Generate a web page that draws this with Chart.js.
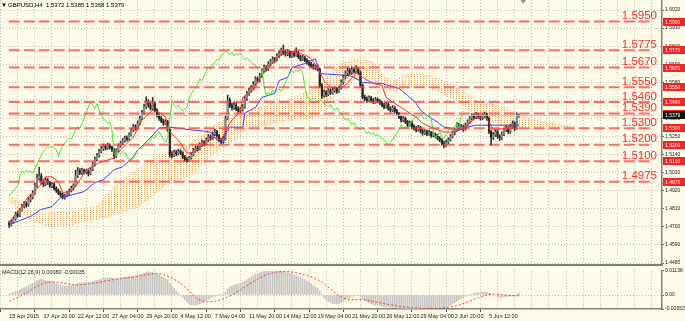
<!DOCTYPE html>
<html>
<head>
<meta charset="utf-8">
<script src="https://cdn.jsdelivr.net/npm/chart.js@4.4.1/dist/chart.umd.min.js"></script>
<style>
  html, body { margin: 0; padding: 0; background: #fefbe8; }
  #wrap { position: relative; width: 685px; height: 321px; overflow: hidden; background: #fefbe8; }
  #main { position: absolute; left: 0; top: 0; }
  #macd { position: absolute; left: 0; top: 266px; }
</style>
</head>
<body>
<div id="wrap">
  <canvas id="main" width="685" height="266" style="width:685px;height:266px"></canvas>
  <canvas id="macd" width="685" height="55" style="width:685px;height:55px"></canvas>
</div>
<script>
// GBPUSD H4 bars, index 0 = 15 Apr 2015 04:00
const firstOpen = 1.4722;
const closes = [
  1.4712,1.4730,1.4748,1.4778,1.4770,1.4802,1.4825,1.4840,1.4832,1.4865,
  1.4880,1.4905,1.4950,1.4995,1.5010,1.4975,1.4960,1.4985,1.4970,1.4950,
  1.4960,1.4935,1.4920,1.4905,1.4895,1.4880,1.4890,1.4905,1.4920,1.4935,
  1.4950,1.5010,1.5040,1.5030,1.5045,1.5035,1.5040,1.5025,1.5050,1.5080,
  1.5110,1.5135,1.5160,1.5175,1.5190,1.5180,1.5195,1.5185,1.5170,1.5130,
  1.5165,1.5195,1.5210,1.5225,1.5240,1.5235,1.5260,1.5290,1.5310,1.5300,
  1.5330,1.5360,1.5395,1.5430,1.5460,1.5440,1.5420,1.5450,1.5410,1.5380,
  1.5360,1.5345,1.5330,1.5340,1.5290,1.5140,1.5135,1.5155,1.5145,1.5160,
  1.5150,1.5125,1.5110,1.5105,1.5120,1.5140,1.5165,1.5180,1.5175,1.5200,
  1.5215,1.5205,1.5230,1.5250,1.5240,1.5265,1.5280,1.5255,1.5230,1.5215,
  1.5240,1.5360,1.5470,1.5440,1.5425,1.5440,1.5420,1.5405,1.5415,1.5430,
  1.5480,1.5510,1.5530,1.5545,1.5570,1.5600,1.5590,1.5620,1.5650,1.5670,
  1.5660,1.5690,1.5705,1.5720,1.5715,1.5740,1.5755,1.5770,1.5760,1.5750,
  1.5765,1.5740,1.5755,1.5745,1.5760,1.5735,1.5720,1.5730,1.5715,1.5700,
  1.5690,1.5680,1.5670,1.5675,1.5660,1.5560,1.5500,1.5520,1.5505,1.5530,
  1.5515,1.5530,1.5540,1.5525,1.5545,1.5580,1.5610,1.5635,1.5650,1.5640,
  1.5655,1.5645,1.5660,1.5640,1.5560,1.5490,1.5480,1.5470,1.5485,1.5470,
  1.5460,1.5475,1.5465,1.5455,1.5440,1.5430,1.5445,1.5420,1.5410,1.5425,
  1.5405,1.5390,1.5370,1.5350,1.5360,1.5340,1.5320,1.5335,1.5310,1.5300,
  1.5290,1.5305,1.5285,1.5270,1.5280,1.5265,1.5275,1.5255,1.5265,1.5250,
  1.5240,1.5230,1.5210,1.5200,1.5215,1.5230,1.5250,1.5270,1.5290,1.5320,
  1.5300,1.5310,1.5295,1.5320,1.5340,1.5360,1.5375,1.5365,1.5380,1.5370,
  1.5360,1.5375,1.5385,1.5360,1.5280,1.5245,1.5260,1.5280,1.5250,1.5240,
  1.5265,1.5290,1.5300,1.5280,1.5310,1.5330,1.5300,1.5372,1.5379
];
const highs = [
  1.4735,1.4741,1.4760,1.4790,1.4795,1.4812,1.4838,1.4856,1.4852,1.4878,
  1.4895,1.4920,1.4968,1.5020,1.5062,1.5025,1.4990,1.4998,1.4995,1.4978,
  1.4972,1.4968,1.4945,1.4930,1.4915,1.4905,1.4900,1.4915,1.4930,1.4948,
  1.4962,1.5045,1.5062,1.5055,1.5058,1.5052,1.5050,1.5048,1.5062,1.5092,
  1.5125,1.5148,1.5172,1.5190,1.5205,1.5200,1.5210,1.5205,1.5192,1.5178,
  1.5175,1.5205,1.5222,1.5238,1.5252,1.5255,1.5272,1.5302,1.5325,1.5322,
  1.5345,1.5375,1.5410,1.5448,1.5492,1.5475,1.5455,1.5488,1.5462,1.5420,
  1.5392,1.5372,1.5355,1.5352,1.5348,1.5298,1.5158,1.5168,1.5165,1.5172,
  1.5170,1.5158,1.5135,1.5122,1.5130,1.5152,1.5178,1.5192,1.5195,1.5212,
  1.5228,1.5225,1.5242,1.5262,1.5260,1.5278,1.5295,1.5288,1.5262,1.5240,
  1.5252,1.5378,1.5502,1.5485,1.5455,1.5458,1.5452,1.5432,1.5428,1.5445,
  1.5495,1.5525,1.5545,1.5560,1.5585,1.5615,1.5612,1.5635,1.5665,1.5685,
  1.5682,1.5705,1.5720,1.5735,1.5732,1.5755,1.5772,1.5788,1.5806,1.5778,
  1.5780,1.5772,1.5770,1.5768,1.5790,1.5770,1.5745,1.5745,1.5738,1.5725,
  1.5712,1.5702,1.5692,1.5688,1.5685,1.5668,1.5572,1.5535,1.5530,1.5542,
  1.5540,1.5545,1.5555,1.5550,1.5558,1.5595,1.5625,1.5650,1.5672,1.5665,
  1.5675,1.5668,1.5682,1.5670,1.5648,1.5570,1.5502,1.5492,1.5498,1.5495,
  1.5482,1.5488,1.5485,1.5475,1.5465,1.5452,1.5458,1.5455,1.5432,1.5438,
  1.5432,1.5415,1.5398,1.5378,1.5372,1.5368,1.5348,1.5345,1.5342,1.5322,
  1.5312,1.5318,1.5312,1.5295,1.5292,1.5290,1.5288,1.5282,1.5278,1.5272,
  1.5262,1.5250,1.5238,1.5222,1.5228,1.5242,1.5262,1.5282,1.5302,1.5335,
  1.5330,1.5325,1.5320,1.5332,1.5352,1.5372,1.5390,1.5388,1.5398,1.5392,
  1.5382,1.5388,1.5400,1.5392,1.5368,1.5290,1.5275,1.5292,1.5288,1.5262,
  1.5278,1.5302,1.5318,1.5310,1.5325,1.5345,1.5340,1.5395,1.5385
];
const lows = [
  1.4697,1.4705,1.4722,1.4740,1.4758,1.4762,1.4795,1.4815,1.4820,1.4825,
  1.4852,1.4870,1.4898,1.4940,1.4985,1.4960,1.4945,1.4950,1.4958,1.4940,
  1.4938,1.4925,1.4910,1.4895,1.4882,1.4870,1.4868,1.4882,1.4895,1.4912,
  1.4925,1.4945,1.5000,1.5018,1.5020,1.5022,1.5025,1.5010,1.5018,1.5042,
  1.5070,1.5100,1.5125,1.5150,1.5165,1.5168,1.5172,1.5175,1.5158,1.5115,
  1.5122,1.5158,1.5185,1.5200,1.5215,1.5222,1.5228,1.5252,1.5280,1.5288,
  1.5292,1.5320,1.5352,1.5385,1.5420,1.5428,1.5410,1.5412,1.5400,1.5368,
  1.5348,1.5335,1.5318,1.5322,1.5280,1.5125,1.5120,1.5128,1.5132,1.5138,
  1.5140,1.5115,1.5098,1.5092,1.5098,1.5112,1.5132,1.5155,1.5162,1.5168,
  1.5190,1.5195,1.5198,1.5220,1.5228,1.5232,1.5255,1.5245,1.5218,1.5205,
  1.5208,1.5232,1.5352,1.5425,1.5410,1.5415,1.5408,1.5392,1.5395,1.5405,
  1.5422,1.5470,1.5500,1.5520,1.5535,1.5560,1.5578,1.5582,1.5610,1.5640,
  1.5648,1.5652,1.5680,1.5695,1.5702,1.5708,1.5730,1.5745,1.5748,1.5738,
  1.5742,1.5730,1.5732,1.5735,1.5738,1.5725,1.5710,1.5712,1.5705,1.5690,
  1.5678,1.5668,1.5660,1.5658,1.5650,1.5548,1.5480,1.5490,1.5492,1.5498,
  1.5505,1.5508,1.5520,1.5512,1.5518,1.5538,1.5570,1.5600,1.5625,1.5628,
  1.5630,1.5635,1.5638,1.5628,1.5548,1.5478,1.5468,1.5458,1.5462,1.5460,
  1.5450,1.5452,1.5455,1.5445,1.5430,1.5420,1.5422,1.5410,1.5398,1.5402,
  1.5395,1.5378,1.5358,1.5338,1.5340,1.5328,1.5308,1.5312,1.5298,1.5288,
  1.5278,1.5282,1.5272,1.5258,1.5262,1.5255,1.5258,1.5245,1.5248,1.5240,
  1.5228,1.5218,1.5198,1.5180,1.5190,1.5205,1.5222,1.5242,1.5260,1.5282,
  1.5290,1.5292,1.5282,1.5288,1.5312,1.5332,1.5350,1.5355,1.5358,1.5360,
  1.5350,1.5352,1.5368,1.5348,1.5268,1.5195,1.5232,1.5250,1.5238,1.5225,
  1.5232,1.5255,1.5280,1.5268,1.5270,1.5300,1.5285,1.5295,1.5368
];

// Ichimoku lines: [bar, price]
const tenkan = [[0,1.4728],[6,1.4824],[9,1.4885],[14,1.4945],[17,1.5005],[20,1.5005],[23,1.4975],[25,1.4909],[28,1.4915],[31,1.4945],[36,1.5048],[42,1.5090],[49,1.5120],[52,1.5168],[58,1.5247],[62,1.5350],[67,1.5410],[70,1.5398],[73,1.5368],[74,1.5289],[79,1.5229],[83,1.5150],[86,1.5150],[91,1.5211],[95,1.5247],[99,1.5229],[103,1.5331],[108,1.5410],[109,1.5488],[114,1.5531],[117,1.5609],[121,1.5670],[126,1.5742],[132,1.5766],[138,1.5748],[141,1.5724],[144,1.5670],[147,1.5591],[150,1.5549],[155,1.5549],[158,1.5573],[162,1.5639],[165,1.5609],[170,1.5573],[174,1.5561],[176,1.5488],[180,1.5452],[185,1.5410],[190,1.5368],[193,1.5331],[198,1.5301],[203,1.5277],[208,1.5277],[209,1.5289],[214,1.5319],[218,1.5368],[223,1.5362],[226,1.5289],[232,1.5301],[236,1.5319],[238,1.5319]];
const kijun = [[0,1.4716],[3,1.4728],[10,1.4764],[15,1.4806],[20,1.4824],[24,1.4879],[30,1.4897],[35,1.4915],[40,1.4969],[44,1.4987],[49,1.5048],[53,1.5066],[58,1.5126],[60,1.5168],[65,1.5229],[68,1.5271],[70,1.5301],[75,1.5307],[86,1.5289],[91,1.5283],[94,1.5277],[97,1.5229],[100,1.5211],[101,1.5271],[103,1.5307],[109,1.5307],[110,1.5392],[115,1.5428],[118,1.5488],[124,1.5513],[126,1.5591],[130,1.5609],[132,1.5670],[138,1.5694],[143,1.5724],[145,1.5633],[159,1.5621],[162,1.5603],[165,1.5579],[174,1.5573],[182,1.5543],[186,1.5500],[190,1.5452],[192,1.5410],[195,1.5380],[200,1.5337],[203,1.5307],[206,1.5301],[208,1.5277],[212,1.5301],[218,1.5319],[238,1.5319]];
const chikouShift = 26;

// cloud (Senkou spans, already shifted forward)
const cloudIdx = [0,5,10,14,20,30,36,42,46,50,55,60,66,73,80,85,90,94,100,105,110,120,130,135,140,144,150,155,159,165,170,173,176,180,185,190,196,201,205,209,214,218,225,232,241,250,258,264];
const spanA = [1.4897,1.4850,1.4800,1.4785,1.4788,1.4794,1.4812,1.4830,1.4900,1.4950,1.5000,1.5050,1.5110,1.5150,1.5180,1.5211,1.5260,1.5307,1.5340,1.5368,1.5400,1.5440,1.5470,1.5500,1.5531,1.5560,1.5633,1.5700,1.5712,1.5724,1.5700,1.5640,1.5609,1.5591,1.5625,1.5633,1.5621,1.5600,1.5573,1.5549,1.5510,1.5470,1.5450,1.5420,1.5360,1.5340,1.5320,1.5310];
const spanB = [1.4861,1.4800,1.4745,1.4722,1.4703,1.4715,1.4740,1.4750,1.4760,1.4780,1.4800,1.4824,1.4880,1.4957,1.4990,1.5017,1.5080,1.5138,1.5190,1.5229,1.5289,1.5320,1.5350,1.5360,1.5360,1.5380,1.5470,1.5560,1.5591,1.5609,1.5600,1.5570,1.5549,1.5520,1.5549,1.5549,1.5549,1.5520,1.5490,1.5470,1.5420,1.5392,1.5350,1.5300,1.5300,1.5300,1.5302,1.5305];

// MACD(12,26,9)
const macdMain = [
  0.0005,0.0008,0.0012,0.0016,0.0020,0.0025,0.0030,0.0035,0.0040,0.0045,
  0.0050,0.0056,0.0062,0.0067,0.0071,0.0072,0.0070,0.0068,0.0066,0.0063,
  0.0060,0.0057,0.0054,0.0050,0.0047,0.0044,0.0042,0.0041,0.0042,0.0043,
  0.0045,0.0050,0.0054,0.0056,0.0057,0.0058,0.0058,0.0058,0.0060,0.0063,
  0.0066,0.0069,0.0072,0.0075,0.0078,0.0080,0.0081,0.0081,0.0080,0.0077,
  0.0077,0.0078,0.0080,0.0082,0.0083,0.0084,0.0085,0.0087,0.0089,0.0090,
  0.0092,0.0095,0.0099,0.0103,0.0107,0.0108,0.0106,0.0106,0.0103,0.0098,
  0.0093,0.0088,0.0082,0.0077,0.0070,0.0055,0.0042,0.0030,0.0020,0.0010,
  0.0000,-0.0010,-0.0022,-0.0032,-0.0040,-0.0045,-0.0047,-0.0047,-0.0045,-0.0042,
  -0.0037,-0.0032,-0.0026,-0.0020,-0.0014,-0.0009,-0.0005,-0.0001,0.0001,0.0002,
  0.0004,0.0014,0.0028,0.0036,0.0042,0.0047,0.0050,0.0052,0.0055,0.0058,
  0.0064,0.0071,0.0078,0.0084,0.0090,0.0096,0.0100,0.0104,0.0108,0.0111,
  0.0112,0.0113,0.0114,0.0114,0.0113,0.0113,0.0112,0.0111,0.0110,0.0108,
  0.0105,0.0102,0.0099,0.0095,0.0091,0.0087,0.0082,0.0077,0.0072,0.0066,
  0.0060,0.0052,0.0045,0.0038,0.0032,0.0018,0.0002,-0.0012,-0.0022,-0.0030,
  -0.0036,-0.0040,-0.0042,-0.0042,-0.0040,-0.0036,-0.0030,-0.0023,-0.0016,-0.0011,
  -0.0007,-0.0004,-0.0002,-0.0003,-0.0009,-0.0018,-0.0026,-0.0032,-0.0037,-0.0041,
  -0.0044,-0.0047,-0.0049,-0.0051,-0.0053,-0.0054,-0.0055,-0.0056,-0.0057,-0.0058,
  -0.0059,-0.0060,-0.0061,-0.0062,-0.0063,-0.0064,-0.0064,-0.0064,-0.0065,-0.0065,
  -0.0065,-0.0064,-0.0064,-0.0063,-0.0062,-0.0061,-0.0060,-0.0059,-0.0058,-0.0057,
  -0.0056,-0.0055,-0.0055,-0.0055,-0.0054,-0.0051,-0.0047,-0.0042,-0.0036,-0.0029,
  -0.0023,-0.0017,-0.0012,-0.0007,-0.0003,0.0001,0.0005,0.0008,0.0010,0.0012,
  0.0013,0.0014,0.0014,0.0013,0.0009,0.0003,-0.0002,-0.0005,-0.0008,-0.0010,
  -0.0010,-0.0009,-0.0007,-0.0005,-0.0005,-0.0004,-0.0006,0.0005,0.0008
];
const macdSignal = [[0,-0.0028],[4,-0.0012],[8,0.0010],[12,0.0035],[16,0.0055],[19,0.0062],[23,0.0060],[27,0.0052],[31,0.0047],[36,0.0050],[41,0.0058],[46,0.0068],[52,0.0076],[58,0.0084],[64,0.0095],[68,0.0101],[72,0.0096],[76,0.0080],[80,0.0055],[84,0.0020],[88,-0.0020],[92,-0.0032],[96,-0.0030],[100,-0.0018],[104,0.0000],[108,0.0025],[112,0.0050],[116,0.0075],[120,0.0095],[125,0.0108],[130,0.0110],[134,0.0104],[138,0.0095],[142,0.0082],[146,0.0060],[150,0.0028],[154,-0.0005],[158,-0.0022],[162,-0.0022],[166,-0.0022],[170,-0.0030],[176,-0.0042],[182,-0.0052],[188,-0.0059],[194,-0.0063],[200,-0.0061],[206,-0.0056],[210,-0.0047],[214,-0.0033],[218,-0.0016],[222,-0.0002],[226,0.0005],[230,0.0002],[234,-0.0002],[238,-0.00035]];
const macdMin = -0.00653, macdMax = 0.01138;

// horizontal levels and axis ticks
const levels = [1.5950, 1.5775, 1.5670, 1.5550, 1.5460, 1.5390, 1.5300, 1.5200, 1.5100, 1.4975];
const priceTicks = [1.4480,1.4590,1.4700,1.4810,1.4920,1.5030,1.5140,1.5250,1.5360,1.5470,1.5580,1.5690,1.5800,1.5910,1.6020];
const timeIdx = [0,16,32,48,64,80,96,112,128,144,160,176,192,208,224];
const timeLabels = ['15 Apr 2015','17 Apr 20:00','22 Apr 12:00','27 Apr 04:00','29 Apr 20:00','4 May 12:00','7 May 04:00','11 May 20:00','14 May 12:00','19 May 04:00','21 May 20:00','26 May 12:00','29 May 04:00','2 Jun 20:00','5 Jun 12:00'];

const X_MIN = -0.2, X_MAX = 300.7;
const FONT = '"Liberation Sans", Arial, sans-serif';
const GRID = 'rgba(140,140,140,0.55)';

const opens = [firstOpen, ...closes.slice(0, -1)];
const lastClose = closes[closes.length - 1];
const gridIdx = [];
for (let v = 0; v <= X_MAX; v += 8) gridIdx.push(v);

// sparse dot hatch like the terminal's cloud
function dots() {
  const c = document.createElement('canvas');
  c.width = 3; c.height = 2;
  const g = c.getContext('2d');
  g.fillStyle = '#f3a055';
  g.fillRect(0, 0, 1, 1);
  return g.createPattern(c, 'repeat');
}

const pts = arr => arr.map(([x, y]) => ({ x, y }));
const hline = (v, color, width, dash, order) => ({
  type: 'line', data: [{ x: X_MIN, y: v }, { x: X_MAX, y: v }],
  borderColor: color, borderWidth: width, borderDash: dash, pointRadius: 0, order
});

const xTimeScale = (showLabels) => ({
  type: 'linear', min: X_MIN, max: X_MAX,
  afterBuildTicks: s => { s.ticks = gridIdx.map(value => ({ value })); },
  afterFit: s => { s.height = showLabels ? 12 : 0; s.paddingLeft = 0; s.paddingRight = 0; },
  grid: {
    color: GRID, lineWidth: 1, drawTicks: showLabels, tickLength: 3,
    tickColor: c => (c.tick && timeIdx.includes(c.tick.value)) ? '#555' : 'rgba(0,0,0,0)'
  },
  border: { display: showLabels, color: '#808080', width: 1.5, dash: [1, 2] },
  ticks: {
    display: showLabels, autoSkip: false, maxRotation: 0, minRotation: 0, align: 'start',
    padding: 1, color: '#222', font: { family: FONT, size: 5.5 },
    callback: v => { const k = timeIdx.indexOf(v); return k >= 0 ? timeLabels[k] : ''; }
  }
});

// ---------- main price panel ----------
const mainDecor = {
  id: 'mainDecor',
  afterDraw(chart) {
    const { ctx, chartArea: a, scales: { x, y } } = chart;
    ctx.save();
    ctx.fillStyle = '#7f7f7f';
    ctx.fillRect(0, a.bottom - 2, a.right + 1, 2);

    ctx.font = '11.5px ' + FONT;
    ctx.textAlign = 'right';
    ctx.textBaseline = 'alphabetic';
    ctx.fillStyle = '#ff2b2b';
    levels.forEach(v => ctx.fillText(v.toFixed(4), a.right - 5, y.getPixelForValue(v) - 2.5));

    ctx.font = '5px ' + FONT;
    ctx.textAlign = 'left';
    ctx.textBaseline = 'middle';
    const tag = (v, bg) => {
      const py = Math.round(y.getPixelForValue(v));
      ctx.fillStyle = bg;
      ctx.fillRect(a.right + 1, py - 4, 22, 8);
      ctx.fillStyle = '#fff';
      ctx.fillText(v.toFixed(4), a.right + 3, py + 0.5);
    };
    levels.forEach(v => tag(v, '#ff1f1f'));
    tag(lastClose, '#111');

    ctx.fillStyle = '#000';
    ctx.font = '6px ' + FONT;
    ctx.fillText('\u25BC', 1, 5);
    ctx.fillText('GBPUSD,H4  ' + [opens[opens.length - 1], highs[highs.length - 1], lows[lows.length - 1], lastClose].map(v => v.toFixed(4)).join(' '), 8, 5);

    const sx = x.getPixelForValue(closes.length + 1);
    ctx.fillStyle = '#9a9a9a';
    ctx.beginPath();
    ctx.moveTo(sx - 3, 0); ctx.lineTo(sx + 3, 0); ctx.lineTo(sx, 4);
    ctx.closePath(); ctx.fill();
    ctx.restore();
  }
};

new Chart(document.getElementById('main'), {
  type: 'bar',
  data: {
    datasets: [
      { type: 'line', data: cloudIdx.map((x, k) => ({ x, y: spanA[k] })), borderColor: 'rgba(244,164,96,0.8)', borderWidth: 1, borderDash: [1, 2], pointRadius: 0, fill: false, order: 20 },
      { type: 'line', data: cloudIdx.map((x, k) => ({ x, y: spanB[k] })), borderColor: 'rgba(244,164,96,0.8)', borderWidth: 1, borderDash: [1, 2], pointRadius: 0, fill: 0, backgroundColor: dots(), order: 19 },
      { data: highs.map((h, i) => ({ x: i, y: [lows[i], h] })), backgroundColor: '#2a2a2a', barThickness: 0.9, grouped: false, order: 6 },
      { data: closes.map((c, i) => ({ x: i, y: [opens[i], c] })), backgroundColor: closes.map((c, i) => c >= opens[i] ? '#858a82' : '#242424'), barThickness: 1.5, minBarLength: 1, grouped: false, order: 5 },
      { type: 'line', data: pts(kijun), borderColor: '#3c3cff', borderWidth: 1, pointRadius: 0, order: 3 },
      { type: 'line', data: pts(tenkan), borderColor: '#ff2a2a', borderWidth: 1, pointRadius: 0, order: 2 },
      { type: 'line', data: closes.slice(chikouShift).map((c, i) => ({ x: i, y: c })), borderColor: '#3ee63e', borderWidth: 1, pointRadius: 0, order: 1 },
      hline(lastClose, '#c4c4c4', 1, [], 4),
      ...levels.map(v => hline(v, 'rgba(255,60,60,0.75)', 2, [11, 4], 0))
    ]
  },
  options: {
    responsive: false, animation: false, events: [],
    layout: { padding: 0 },
    plugins: { legend: { display: false }, tooltip: { enabled: false } },
    scales: {
      x: xTimeScale(false),
      y: {
        type: 'linear', position: 'right', min: 1.4462, max: 1.6081,
        afterBuildTicks: s => { s.ticks = priceTicks.map(value => ({ value })); },
        afterFit: s => { s.width = 23; s.paddingTop = 0; s.paddingBottom = 0; },
        grid: { color: GRID, lineWidth: 1, drawTicks: true, tickLength: 2, tickColor: '#555' },
        border: { color: '#808080', width: 1.5, dash: [1, 2] },
        ticks: { padding: 1, color: '#222', font: { family: FONT, size: 5 }, callback: v => v.toFixed(4) }
      }
    }
  },
  plugins: [mainDecor]
});

// ---------- MACD panel ----------
const macdDecor = {
  id: 'macdDecor',
  afterDraw(chart) {
    const { ctx, chartArea: a } = chart;
    ctx.save();
    ctx.fillStyle = '#222';
    ctx.font = '5.5px ' + FONT;
    ctx.textAlign = 'left';
    ctx.textBaseline = 'middle';
    const sig = macdSignal[macdSignal.length - 1][1];
    ctx.fillText('MACD(12,26,9) ' + macdMain[macdMain.length - 1].toFixed(5) + ' ' + sig.toFixed(5), 2, a.top + 2);
    ctx.restore();
  }
};

new Chart(document.getElementById('macd'), {
  type: 'bar',
  data: {
    datasets: [
      { data: macdMain.map((v, i) => ({ x: i, y: v })), backgroundColor: '#c4c4c4', barThickness: 1, order: 2 },
      { type: 'line', data: pts(macdSignal), borderColor: '#ff3b3b', borderWidth: 1, borderDash: [2, 2], pointRadius: 0, order: 1 }
    ]
  },
  options: {
    responsive: false, animation: false, events: [],
    layout: { padding: { top: 4.7 } },
    plugins: { legend: { display: false }, tooltip: { enabled: false } },
    scales: {
      x: xTimeScale(true),
      y: {
        type: 'linear', position: 'right', min: macdMin, max: macdMax,
        afterBuildTicks: s => { s.ticks = [macdMin, 0, macdMax].map(value => ({ value })); },
        afterFit: s => { s.width = 23; s.paddingTop = 0; s.paddingBottom = 0; },
        grid: { color: c => (c.tick && c.tick.value === 0) ? GRID : 'rgba(0,0,0,0)', drawTicks: true, tickLength: 2, tickColor: '#555' },
        border: { color: '#808080', width: 1.5, dash: [1, 2] },
        ticks: { padding: 1, color: '#222', font: { family: FONT, size: 5 }, callback: v => v === 0 ? '0.00' : v.toFixed(5) }
      }
    }
  },
  plugins: [macdDecor]
});
</script>
</body>
</html>
